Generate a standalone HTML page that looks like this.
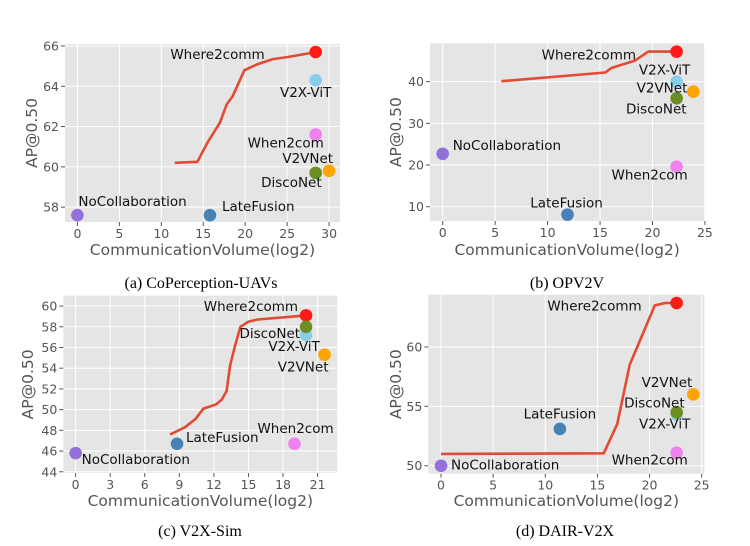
<!DOCTYPE html>
<html><head><meta charset="utf-8"><style>
body{margin:0;background:#fff;}
svg{display:block;}
.tick{font-family:"DejaVu Sans","Liberation Sans",sans-serif;font-size:12.5px;fill:#555;}
.axl{font-family:"DejaVu Sans","Liberation Sans",sans-serif;font-size:15.5px;fill:#555;}
.ann{font-family:"DejaVu Sans","Liberation Sans",sans-serif;font-size:13.5px;fill:#111;}
.cap{font-family:"Liberation Serif",serif;font-size:16px;fill:#000;}
</style></head><body>
<svg id="fig" width="750" height="546" viewBox="0 0 750 546" xmlns="http://www.w3.org/2000/svg"></svg>
<script>
// ---- data ----
const methods = ["Where2comm","V2X-ViT","When2com","DiscoNet","V2VNet","NoCollaboration","LateFusion"];
const colors = ["#ff1a1a","#87ceeb","#ee82ee","#6b8e23","#ffa500","#9370db","#4682b4"];
// panel (a) CoPerception-UAVs
const aX = [28.4,28.4,28.4,28.4,30,0,15.8];
const aY = [65.7,64.3,61.6,59.7,59.8,57.6,57.6];
const aLineX = [11.6,14.3,15.5,17,17.8,18.5,19.9,21.5,23.3,25,28.4];
const aLineY = [60.2,60.25,61.2,62.2,63.1,63.5,64.8,65.1,65.35,65.45,65.7];
const aXTicks = [0,5,10,15,20,25,30];
const aYTicks = [58,60,62,64,66];
// panel (b) OPV2V
const bX = [22.3,22.3,22.3,22.3,23.9,0,11.9];
const bY = [47.2,40,19.6,36,37.6,22.7,8.1];
const bLineX = [5.6,15.5,16.1,18.3,19.6,22.3];
const bLineY = [40.1,42.2,43.3,45,47.2,47.2];
const bXTicks = [0,5,10,15,20,25];
const bYTicks = [10,20,30,40];
// panel (c) V2X-Sim
const cX = [20,20,19,20,21.6,0,8.8];
const cY = [59.1,57.2,46.7,58,55.3,45.8,46.7];
const cLineX = [8.2,9.5,10.4,11.1,12.2,12.7,13.1,13.4,13.8,14.3,15,15.8,20];
const cLineY = [47.6,48.3,49.1,50.1,50.5,51,51.8,54.2,56,58,58.5,58.7,59.1];
const cXTicks = [0,3,6,9,12,15,18,21];
const cYTicks = [44,46,48,50,52,54,56,58,60];
// panel (d) DAIR-V2X
const dX = [22.6,22.6,22.6,22.6,24.2,0,11.4];
const dY = [63.7,54.3,51.1,54.5,56,50,53.1];
const dLineX = [0,15.6,16.9,18.1,20.5,21.5,22.6];
const dLineY = [51,51.05,53.5,58.5,63.5,63.7,63.7];
const dXTicks = [0,5,10,15,20,25];
const dYTicks = [50,55,60];

const NS="http://www.w3.org/2000/svg";
const fig=document.getElementById('fig');
function mk(tag,attrs,parent,txt){const e=document.createElementNS(NS,tag);for(const k in attrs)e.setAttribute(k,attrs[k]);if(txt!==undefined)e.textContent=txt;(parent||fig).appendChild(e);return e;}

function panel(cfg){
  const g=mk('g',{});
  
  
  const sx=v=>cfg.x0+(v-cfg.xmin)/(cfg.xmax-cfg.xmin)*(cfg.x1-cfg.x0);
  const sy=v=>cfg.y1-(v-cfg.ymin)/(cfg.ymax-cfg.ymin)*(cfg.y1-cfg.y0);
  const bg=mk('rect',{x:cfg.x0,y:cfg.y0,width:cfg.x1-cfg.x0,height:cfg.y1-cfg.y0,fill:'#e5e5e5'},g);
  
  
  cfg.xt.forEach(t=>{
    const x=sx(t);
    mk('line',{x1:x,x2:x,y1:cfg.y0,y2:cfg.y1,stroke:'#fff','stroke-width':1},g);
    mk('line',{x1:x,x2:x,y1:cfg.y1,y2:cfg.y1+4,stroke:'#555','stroke-width':1},g);
    const tl=mk('text',{x:x,y:cfg.y1+16,'text-anchor':'middle',class:'tick'},g,String(t));
    
    
  });
  cfg.yt.forEach(t=>{
    const y=sy(t);
    mk('line',{x1:cfg.x0,x2:cfg.x1,y1:y,y2:y,stroke:'#fff','stroke-width':1},g);
    mk('line',{x1:cfg.x0-4,x2:cfg.x0,y1:y,y2:y,stroke:'#555','stroke-width':1},g);
    const tl=mk('text',{x:cfg.x0-6,y:y+4.5,'text-anchor':'end',class:'tick'},g,String(t));
    
    
  });
  const pts=cfg.lx.map((v,i)=>sx(v).toFixed(1)+','+sy(cfg.ly[i]).toFixed(1)).join(' ');
  const ln=mk('polyline',{points:pts,fill:'none',stroke:'#e24a33','stroke-width':2.6,'stroke-linejoin':'round'},g);
  
  
  methods.forEach((m,i)=>{
    const cx=sx(cfg.px[i]),cy=sy(cfg.py[i]);
    const c=mk('circle',{cx:cx,cy:cy,r:6.3,fill:colors[i]},g);
    
    
    const o=cfg.lab[i];
    const t=mk('text',{x:cx+o[0],y:cy+o[1],'text-anchor':o[2],class:'ann'},g,m);
    
    
  });
  const xl=mk('text',{x:(cfg.x0+cfg.x1)/2,y:cfg.xly,'text-anchor':'middle',class:'axl'},g,'CommunicationVolume(log2)');
  
  
  const yl=mk('text',{x:0,y:0,'text-anchor':'middle',class:'axl',transform:`translate(${cfg.ylx},${(cfg.y0+cfg.y1)/2}) rotate(-90)`},g,'AP@0.50');
  
  
  const cp=mk('text',{x:cfg.capx,y:cfg.capy,'text-anchor':'middle',class:'cap'},g,cfg.cap);
  
  
}

panel({name:'panel-coperception-uavs',x0:65,x1:340,y0:44,y1:222,xmin:-1.48,xmax:31.3,ymin:57.26,ymax:66.1,
  xt:aXTicks,yt:aYTicks,lx:aLineX,ly:aLineY,px:aX,py:aY,
  lab:[[-51,7,'end'],[-10,17,'middle'],[-30,13,'middle'],[6,14,'end'],[4,-8,'end'],[1,-9,'start'],[12,-4,'start']],
  xly:255,ylx:37,cap:'(a) CoPerception-UAVs',capx:201,capy:288});
panel({name:'panel-opv2v',x0:430,x1:704.3,y0:43.3,y1:221,xmin:-1.21,xmax:24.94,ymin:6.57,ymax:49.2,
  xt:bXTicks,yt:bYTicks,lx:bLineX,ly:bLineY,px:bX,py:bY,
  lab:[[-40.6,8,'end'],[-12,-7,'middle'],[-27,13,'middle'],[10,15,'end'],[-6,1,'end'],[10,-4,'start'],[-1,-7,'middle']],
  xly:255,ylx:401,cap:'(b) OPV2V',capx:567,capy:288});
panel({name:'panel-v2x-sim',x0:63.3,x1:337.3,y0:295.7,y1:473,xmin:-1.07,xmax:22.71,ymin:43.88,ymax:61.0,
  xt:cXTicks,yt:cYTicks,lx:cLineX,ly:cLineY,px:cX,py:cY,
  lab:[[-8,-4.5,'end'],[-12,16,'middle'],[1,-11,'middle'],[-6,11,'end'],[4,17,'end'],[6,11,'start'],[9,-2,'start']],
  xly:506,ylx:33,cap:'(c) V2X-Sim',capx:200,capy:536});
panel({name:'panel-dair-v2x',x0:428.3,x1:704.3,y0:294.7,y1:473.7,xmin:-1.22,xmax:25.25,ymin:49.33,ymax:64.4,
  xt:dXTicks,yt:dYTicks,lx:dLineX,ly:dLineY,px:dX,py:dY,
  lab:[[-35,7.6,'end'],[-12,14,'middle'],[-27,12,'middle'],[8,-5,'end'],[-1,-7.5,'end'],[10,4,'start'],[0,-10.6,'middle']],
  xly:506,ylx:401,cap:'(d) DAIR-V2X',capx:565,capy:536});
</script>
</body></html>
